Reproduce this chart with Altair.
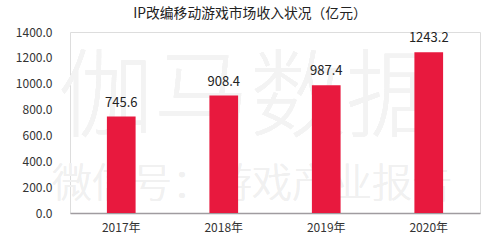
import altair as alt
import pandas as pd

years = ["2017年", "2018年", "2019年", "2020年"]
revenue = [745.6, 908.4, 987.4, 1243.2]
y_ticks = [0, 200, 400, 600, 800, 1000, 1200, 1400]

df = pd.DataFrame({"year": years, "revenue": revenue})
FONT = "Noto Sans CJK SC"

x_enc = alt.X("year:N", sort=years,
              scale=alt.Scale(paddingInner=0.72, paddingOuter=0.36),
              axis=alt.Axis(title=None, labelAngle=0, labelFontSize=12, labelColor="#333333",
                            labelFont=FONT, labelPadding=9, ticks=False,
                            domainColor="#a09ca0", domainWidth=1.5, grid=False))
y_enc = alt.Y("revenue:Q", scale=alt.Scale(domain=[0, 1400]),
              axis=alt.Axis(title=None, values=y_ticks, format=".1f", labelFontSize=12,
                            labelColor="#333333", labelFont=FONT, labelPadding=18,
                            labelOverlap=False, ticks=False, domain=False, grid=False))

wm1 = alt.Chart(df).mark_text(text="伽马数据", font=FONT, fontSize=96, fontWeight=300,
                              color="#f3f3f3").encode(x=alt.value(180), y=alt.value(68))
wm2 = alt.Chart(df).mark_text(text="微信号：游戏产业报告", font=FONT, fontSize=40, fontWeight=300,
                              color="#f1f1f1").encode(x=alt.value(182), y=alt.value(153))

base = alt.Chart(df).encode(x=x_enc, y=y_enc)
bars = base.mark_bar(color="#e8193e")
labels = base.mark_text(dy=-14, fontSize=13, color="#222222", font=FONT).encode(
    text=alt.Text("revenue:Q", format=".1f"))

chart = alt.layer(wm1, wm2, bars, labels).properties(
    width=410, height=181,
    autosize=alt.AutoSizeParams(type="none"),
    padding={"left": 70, "top": 32, "right": 20, "bottom": 30},
    title=alt.TitleParams("IP改编移动游戏市场收入状况（亿元）", font=FONT, fontSize=13.8,
                          fontWeight="normal", color="#222222", anchor="middle", dx=-25, offset=5),
).configure_view(stroke=None).configure(background="white").configure_axis(labelOverlap=False)

chart.save("out.html", embed_options={"renderer": "svg", "actions": False})
